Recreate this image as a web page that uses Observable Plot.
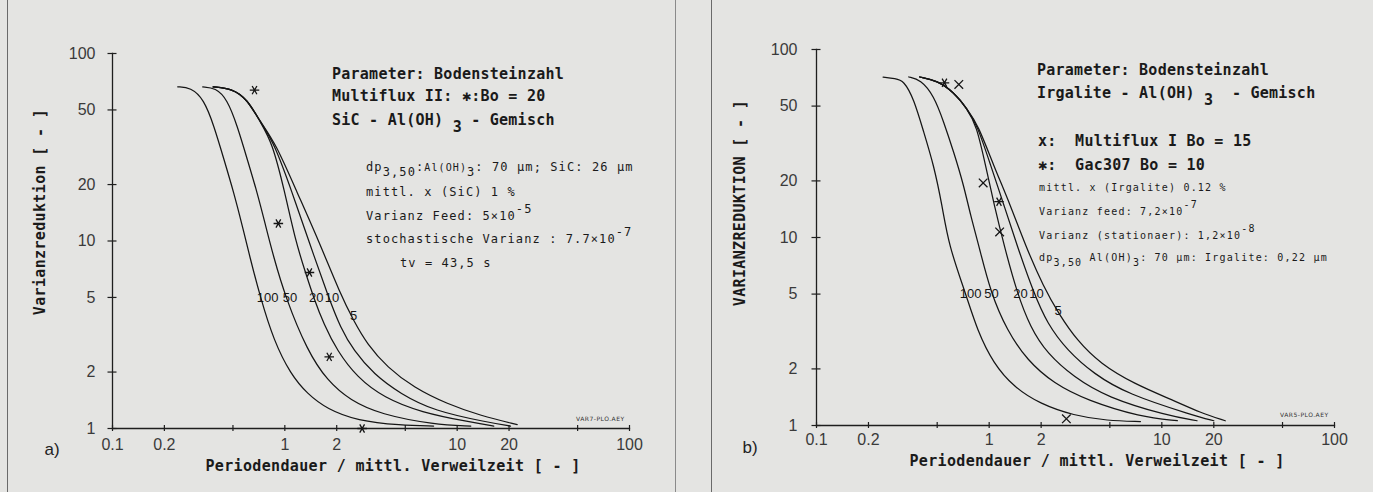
<!DOCTYPE html>
<html><head><meta charset="utf-8">
<script src="https://cdn.jsdelivr.net/npm/d3@7"></script>
<script src="https://cdn.jsdelivr.net/npm/@observablehq/plot@0.6"></script>
<style>
html,body{margin:0;padding:0}
body{background:#e4e4e2;width:1373px;height:492px;overflow:hidden;position:relative;font-family:"DejaVu Sans Mono",monospace;color:#1a1a1a}
.t{position:absolute;white-space:pre;line-height:1;transform:translateY(-50%)}
.big{font-size:15px;font-weight:bold;letter-spacing:0.25px}
.sm{font-size:12px;letter-spacing:1.1px}
.xs{font-size:10px;letter-spacing:1.2px}
.sub{position:relative;top:7px}
.subs{position:relative;top:5px}
.sup{position:relative;top:-7px}
.vl{position:absolute;top:0;width:1px;height:492px;background:#6a6a6a}
.ttl{position:absolute;white-space:pre;font-size:15px;font-weight:bold;line-height:1;letter-spacing:0.35px}
.tag{position:absolute;font-family:"Liberation Sans",Arial,sans-serif;font-size:17px;line-height:1;transform:translate(-50%,-50%);color:#222}
.fn{position:absolute;font-family:"DejaVu Sans",sans-serif;font-size:6px;line-height:1;letter-spacing:0.5px;color:#333;transform:translateY(-50%)}
#a,#b{position:absolute;top:0}
</style></head><body>
<div class="vl" style="left:7px"></div>
<div class="vl" style="left:675px;background:#8a8a8a"></div>
<div class="vl" style="left:711px"></div>
<div id="a" style="left:0"></div>
<div id="b" style="left:690px"></div>

<!-- panel a annotations -->
<div class="t big" style="left:332px;top:74px">Parameter: Bodensteinzahl</div>
<div class="t big" style="left:332px;top:96px">Multiflux II: ✱:Bo = 20</div>
<div class="t big" style="left:332px;top:120px">SiC - Al(OH)<span class="sub"> 3</span> - Gemisch</div>
<div class="t sm" style="left:366px;top:167px">dp<span class="subs">3,50</span>:<span style="font-size:10px">Al(OH)</span><span class="subs">3</span>: 70 µm; SiC: 26 µm</div>
<div class="t sm" style="left:366px;top:192px">mittl. x (SiC) 1 %</div>
<div class="t sm" style="left:366px;top:216px">Varianz Feed: 5×10<span class="sup">-5</span></div>
<div class="t sm" style="left:366px;top:239px">stochastische Varianz : 7.7×10<span class="sup">-7</span></div>
<div class="t sm" style="left:400px;top:263px">tv = 43,5 s</div>
<div class="fn" style="left:576px;top:419px">VAR7-PLO.AEY</div>
<div class="tag" style="left:52px;top:449px">a)</div>
<div class="ttl" style="left:393px;top:466px;transform:translate(-50%,-50%)">Periodendauer / mittl. Verweilzeit [ - ]</div>
<div class="ttl" style="left:40px;top:212px;transform:translate(-50%,-50%) rotate(-90deg)">Varianzreduktion [ - ]</div>

<!-- panel b annotations -->
<div class="t big" style="left:1037px;top:70px">Parameter: Bodensteinzahl</div>
<div class="t big" style="left:1037px;top:93px">Irgalite - Al(OH)<span class="sub"> 3</span>  - Gemisch</div>
<div class="t big" style="left:1038px;top:141px">x:  Multiflux I Bo = 15</div>
<div class="t big" style="left:1038px;top:165px">✱:  Gac307 Bo = 10</div>
<div class="t xs" style="left:1039px;top:188px">mittl. x (Irgalite) 0.12 %</div>
<div class="t xs" style="left:1039px;top:212px">Varianz feed: 7,2×10<span class="sup">-7</span></div>
<div class="t xs" style="left:1039px;top:236px">Varianz (stationaer): 1,2×10<span class="sup">-8</span></div>
<div class="t xs" style="left:1039px;top:258px">dp<span class="subs">3,50</span> Al(OH)<span class="subs">3</span>: 70 µm: Irgalite: 0,22 µm</div>
<div class="fn" style="left:1280px;top:415px">VAR5-PLO.AEY</div>
<div class="tag" style="left:750px;top:447px">b)</div>
<div class="ttl" style="left:1097px;top:461px;transform:translate(-50%,-50%)">Periodendauer / mittl. Verweilzeit [ - ]</div>
<div class="ttl" style="left:740px;top:203px;transform:translate(-50%,-50%) rotate(-90deg)">VARIANZREDUKTION [ - ]</div>

<script>
// ---------- data ----------
const xTicks = [0.1, 0.2, 0.5, 1, 2, 5, 10, 20, 50, 100];
const yTicks = [1, 2, 5, 10, 20, 50, 100];
const boValues = [100, 50, 20, 10, 5];
const curveLabels = ["100", "50", "20", "10", "5"];

// panel a) SiC - Al(OH)3, curves for Bo = 100, 50, 20, 10, 5 : [T/tv, Varianzreduktion]
const aBo100 = [[0.239,66.4],[0.284,65.9],[0.339,57.1],[0.388,41.1],[0.443,27.3],[0.506,18.1],[0.566,12.1],[0.624,8.34],[0.722,4.98],[0.863,2.94],[1.08,1.95],[1.35,1.53],[1.76,1.27],[2.63,1.10],[4.69,1.04],[7.3,1.03]];
const aBo50  = [[0.334,66.4],[0.396,65.6],[0.463,57.1],[0.530,41.1],[0.605,27.3],[0.692,18.1],[0.773,12.1],[0.857,8.34],[1.01,4.98],[1.35,2.60],[1.76,1.80],[2.40,1.41],[3.59,1.19],[7.33,1.05],[12.0,1.03]];
const aBo20  = [[0.384,66.4],[0.495,65.0],[0.605,57.1],[0.723,42.9],[0.845,33.5],[0.996,18.5],[1.153,10.0],[1.318,6.79],[1.472,4.96],[1.684,3.60],[2.01,2.60],[2.63,1.87],[3.76,1.46],[6.14,1.22],[12.0,1.08],[16.3,1.03]];
const aBo10  = [[0.384,66.4],[0.495,65.0],[0.605,57.1],[0.723,42.9],[0.865,33.5],[1.104,18.1],[1.377,10.0],[1.80,4.96],[2.10,3.46],[2.51,2.60],[3.28,1.95],[4.69,1.53],[7.33,1.24],[15.0,1.08],[20.4,1.03]];
const aBo5   = [[0.384,66.4],[0.495,65.0],[0.605,57.1],[0.723,42.9],[0.880,33.5],[1.18,18.1],[1.574,10.0],[2.10,5.21],[2.51,3.75],[3.00,2.82],[3.93,2.12],[5.61,1.65],[8.77,1.35],[13.7,1.17],[22.3,1.05]];
const aStar  = [[0.667,63.8],[0.917,12.4],[1.39,6.79],[1.81,2.41],[2.81,1.0]];   // Multiflux II
const aLabelX = [0.795, 1.07, 1.52, 1.88, 2.51];
const aLabelY = [5, 5, 5, 5, 3.99];

// panel b) Irgalite - Al(OH)3
const bBo100 = [[0.243,71.4],[0.286,70.1],[0.320,68.4],[0.366,54.7],[0.418,36.3],[0.478,24.2],[0.534,14.8],[0.583,9.07],[0.729,5.08],[0.853,3.20],[1.06,2.13],[1.39,1.60],[1.98,1.30],[3.09,1.13],[4.82,1.06],[7.52,1.05]];
const bBo50  = [[0.342,71.4],[0.400,69.2],[0.478,56.9],[0.546,41.1],[0.624,28.4],[0.713,18.9],[0.780,13.1],[0.871,9.07],[1.02,5.08],[1.27,3.20],[1.66,2.22],[2.37,1.67],[3.69,1.36],[7.52,1.11],[12.3,1.06]];
const bBo20  = [[0.396,71.4],[0.500,68.4],[0.624,59.3],[0.746,48.4],[0.845,39.4],[0.953,24.2],[1.07,14.8],[1.22,9.07],[1.45,5.08],[1.73,3.33],[2.17,2.41],[3.09,1.81],[4.82,1.41],[10.7,1.13],[16.0,1.06]];
const bBo10  = [[0.396,71.4],[0.500,68.4],[0.624,59.3],[0.746,48.4],[0.855,39.4],[1.02,24.2],[1.22,14.8],[1.45,9.07],[1.81,5.08],[2.17,3.48],[2.83,2.51],[4.04,1.88],[6.30,1.47],[15.3,1.13],[20.0,1.06]];
const bBo5   = [[0.396,71.4],[0.500,68.4],[0.624,59.3],[0.746,48.4],[0.865,39.4],[1.06,24.2],[1.33,14.8],[1.62,9.07],[2.07,5.44],[2.53,3.93],[3.23,2.83],[4.41,2.13],[6.87,1.67],[11.7,1.36],[16.7,1.17],[23.3,1.06]];
const bCross = [[0.667,65.2],[0.923,19.5],[1.15,10.7],[2.8,1.085]];   // Multiflux I
const bStar  = [[0.551,66.5],[1.14,15.5]];                           // Gac307
const bLabelX = [0.780, 1.03, 1.52, 1.88, 2.51];
const bLabelY = [5, 5, 5, 5, 4.09];

// ---------- drawing ----------
function rowsOf(curves) {
  return curves.flatMap((pts, i) => pts.map(([x, y]) => ({bo: boValues[i], x, y})));
}
function panel(o) {
  const rows = rowsOf(o.curves);
  const labels = curveLabels.map((t, i) => ({t, x: o.lx[i], y: o.ly[i]}));
  const marks = [
    Plot.frame({anchor: "left", stroke: "#1e1e1e", strokeWidth: 1.3}),
    Plot.frame({anchor: "bottom", stroke: "#1e1e1e", strokeWidth: 1.3}),
    Plot.axisY({ticks: yTicks, tickSize: 9, dx: 4.5, tickFormat: () => "", stroke: "#1e1e1e", strokeWidth: 1.2}),
    Plot.axisY({ticks: yTicks, tickSize: 0, tickPadding: o.typ, tickFormat: d => String(d), fill: "#3a3a3a", fontSize: 16}),
    Plot.axisX({ticks: xTicks, tickSize: 6, dy: -3, tickFormat: () => "", stroke: "#1e1e1e", strokeWidth: 1.2}),
    Plot.axisX({ticks: xTicks, tickSize: 0, tickPadding: o.txp, tickFormat: d => String(d), fill: "#3a3a3a", fontSize: 16}),
    Plot.line(rows, {x: "x", y: "y", z: "bo", curve: "basis", stroke: "#151515", strokeWidth: 1.25}),
    Plot.text(labels, {x: "x", y: "y", text: "t", fontSize: 13, fill: "#151515"})
  ];
  if (o.star) marks.push(Plot.dot(o.star, {x: d => d[0], y: d => d[1], symbol: "asterisk", r: 4.5, rotate: 90, stroke: "#151515", strokeWidth: 1.3}));
  if (o.cross) marks.push(Plot.dot(o.cross, {x: d => d[0], y: d => d[1], symbol: "times", r: 4, stroke: "#151515", strokeWidth: 1.3}));
  return Plot.plot({
    width: o.width, height: 492,
    marginLeft: o.ml, marginRight: o.mr, marginTop: o.mt, marginBottom: o.mb,
    x: {type: "log", domain: [xTicks[0], xTicks[xTicks.length - 1]], label: null},
    y: {type: "log", domain: [yTicks[0], yTicks[yTicks.length - 1]], label: null},
    style: {background: "transparent", fontFamily: "'Liberation Sans', Arial, sans-serif", fontSize: "16px", color: "#333", overflow: "visible"},
    marks
  });
}
document.getElementById("a").append(panel({
  width: 680, ml: 112, mr: 51, mt: 53, mb: 64, typ: 17, txp: 10,
  curves: [aBo100, aBo50, aBo20, aBo10, aBo5], star: aStar, lx: aLabelX, ly: aLabelY
}));
document.getElementById("b").append(panel({
  width: 683, ml: 126, mr: 39, mt: 49, mb: 67, typ: 19, txp: 8,
  curves: [bBo100, bBo50, bBo20, bBo10, bBo5], star: bStar, cross: bCross, lx: bLabelX, ly: bLabelY
}));
</script>
</body></html>
